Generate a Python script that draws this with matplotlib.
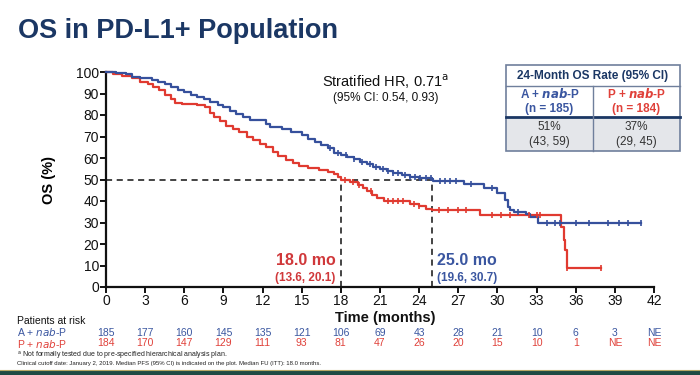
import numpy as np
import matplotlib
matplotlib.use("Agg")
import matplotlib.pyplot as plt
from matplotlib.patches import Rectangle
from matplotlib.lines import Line2D

plt.rcParams['font.family'] = ['Liberation Sans', 'DejaVu Sans']

# ---------------- data ----------------
a_times = [0, 0.8, 1.5, 2.0, 2.6, 3.5, 4.0, 4.5, 5.0, 5.5, 6.0, 6.5, 7.0, 7.5, 8.0, 8.6,
           9.0, 9.5, 10.0, 10.5, 11.0, 12.3, 12.6, 13.5, 14.2, 15.0, 15.5, 16.0, 16.5,
           17.0, 17.5, 18.0, 18.5, 19.0, 19.5, 20.0, 20.5, 21.0, 21.5, 22.0, 22.7, 23.3,
           24.0, 25.0, 25.1, 27.4, 29.0, 30.0, 30.6, 30.8, 31.0, 31.3, 32.2, 32.5, 33.1, 41.0]
a_surv = [100, 99.5, 98.9, 97.5, 97.0, 96.5, 95.5, 94.2, 93.0, 91.8, 90.8, 89.5, 88.5, 87.5,
          86.2, 84.5, 83.5, 82.0, 80.5, 79.0, 77.5, 76.0, 74.5, 73.5, 72.0, 70.5, 69.0, 67.5,
          66.0, 64.5, 62.5, 61.5, 60.5, 59.5, 58.0, 57.0, 56.0, 55.0, 54.0, 53.0, 52.0, 51.3,
          50.8, 50.3, 49.3, 48.0, 46.0, 43.6, 40.5, 37.4, 36.0, 35.0, 34.0, 32.6, 29.8, 29.8]
a_cens = [17.2, 17.8, 18.4, 19.0, 19.6, 20.2, 20.7, 21.2, 21.6, 22.0, 22.4, 22.9, 23.3, 23.7,
          24.1, 24.5, 24.9, 25.6, 26.0, 26.4, 26.8, 28.0, 29.6, 31.6, 33.8, 34.4, 34.8, 36.0,
          37.0, 38.5, 39.3, 40.0, 41.0]

p_times = [0, 0.5, 1.2, 2.0, 2.6, 3.2, 3.6, 4.1, 4.5, 5.0, 5.3, 5.8, 7.0, 7.6, 8.0, 8.3,
           8.7, 9.2, 9.7, 10.2, 10.8, 11.3, 11.8, 12.3, 12.8, 13.2, 13.8, 14.3, 14.8, 15.5,
           16.3, 17.0, 17.5, 17.8, 18.0, 18.7, 19.3, 19.7, 20.0, 20.4, 20.8, 21.3, 23.3,
           24.0, 24.5, 25.0, 28.7, 34.9, 35.1, 35.2, 35.3, 37.9]
p_surv = [100, 99.0, 98.2, 97.0, 95.5, 94.5, 93.0, 91.5, 89.5, 87.5, 85.8, 85.0, 84.5, 83.5,
          81.0, 79.0, 77.0, 75.0, 73.5, 72.0, 70.0, 68.5, 66.5, 65.0, 63.0, 61.0, 59.0, 57.5,
          56.5, 55.5, 54.5, 53.5, 52.5, 51.0, 49.8, 48.8, 47.5, 46.0, 44.5, 43.0, 41.5, 40.0,
          38.5, 37.5, 36.5, 35.8, 33.5, 28.0, 22.0, 17.0, 9.0, 9.0]
p_cens = [18.3, 18.9, 19.4, 20.3, 21.6, 22.0, 22.4, 22.8, 23.6, 24.0, 25.5, 26.2, 27.0,
          27.6, 29.6, 30.3, 31.0, 32.4, 33.0, 33.3, 35.3, 37.9]

risk_times = [0, 3, 6, 9, 12, 15, 18, 21, 24, 27, 30, 33, 36, 39, 42]
risk_a = ['185', '177', '160', '145', '135', '121', '106', '69', '43', '28', '21', '10', '6', '3', 'NE']
risk_p = ['184', '170', '147', '129', '111', '93', '81', '47', '26', '20', '15', '10', '1', 'NE', 'NE']

median_a, median_p = 25.0, 18.0

BLUE = '#36509c'
RED = '#e03a30'
NAVY = '#1b3764'
W, H = 700, 375

fig = plt.figure(figsize=(7, 3.75), dpi=100)
fig.patch.set_facecolor('white')

def fx(px):
    return px / W

def fy(py):
    return 1 - py / H

ax = fig.add_axes([fx(106), fy(287), fx(654) - fx(106), fy(72) - fy(287)])
ax.set_xlim(0, 42)
ax.set_ylim(0, 100)
for s in ['top', 'right']:
    ax.spines[s].set_visible(False)
for s in ['left', 'bottom']:
    ax.spines[s].set_linewidth(1.6)
    ax.spines[s].set_color('#111111')
ax.set_xticks(np.arange(0, 43, 3))
ax.set_yticks(np.arange(0, 101, 10))
ax.tick_params(axis='both', direction='out', length=4, width=1.4, labelsize=10,
               colors='#111111', pad=1)
ax.set_ylabel('OS (%)', fontsize=10.5, fontweight='bold', labelpad=14)
fig.text(fx(385), fy(318), 'Time (months)', fontsize=10.5, fontweight='bold',
         color='#111111', ha='center', va='center')

# median reference lines
ax.plot([0, median_a], [50, 50], ls=(0, (4, 3)), color='#111111', lw=1.1, zorder=1)
ax.plot([median_p, median_p], [0, 50], ls=(0, (4, 3)), color='#111111', lw=1.1, zorder=1)
ax.plot([median_a, median_a], [0, 50], ls=(0, (4, 3)), color='#111111', lw=1.1, zorder=1)

def step_val(times, surv, t):
    idx = np.searchsorted(times, t, side='right') - 1
    return np.array(surv)[idx]

for times, surv, cens, col in [(p_times, p_surv, p_cens, RED), (a_times, a_surv, a_cens, BLUE)]:
    ax.step(times, surv, where='post', color=col, lw=1.6, zorder=3, clip_on=False)
    ax.plot(cens, step_val(np.array(times), surv, np.array(cens)), ls='none', marker='|',
            ms=5, mew=1.2, color=col, zorder=4, clip_on=False)

# HR text
ax.text(0.51, 0.955, 'Stratified HR, 0.71$^{\\mathrm{a}}$', transform=ax.transAxes,
        ha='center', va='center', fontsize=10.5, color='#111111')
ax.text(0.51, 0.88, '(95% CI: 0.54, 0.93)', transform=ax.transAxes,
        ha='center', va='center', fontsize=8.5, color='#111111')

# median annotations
ax.text(17.6, 12.5, '18.0 mo', ha='right', va='center', fontsize=11.5, fontweight='bold', color='#d0383a')
ax.text(17.6, 4.3, '(13.6, 20.1)', ha='right', va='center', fontsize=8.5, fontweight='bold', color='#d0383a')
ax.text(25.4, 12.5, '25.0 mo', ha='left', va='center', fontsize=11.5, fontweight='bold', color='#3a56a0')
ax.text(25.4, 4.3, '(19.6, 30.7)', ha='left', va='center', fontsize=8.5, fontweight='bold', color='#3a56a0')

# title
fig.text(fx(18), fy(31), 'OS in PD-L1+ Population', fontsize=19.5, fontweight='bold',
         color=NAVY, ha='left', va='center')

# 24-month OS rate table
tl, tr, tm = 506, 680, 593
t0, t1, t2, t3 = 65, 86, 117, 151
fig.patches.append(Rectangle((fx(tl), fy(t3)), fx(tr) - fx(tl), fy(t2) - fy(t3),
                             transform=fig.transFigure, facecolor='#e4e6ea', edgecolor='none'))
fig.patches.append(Rectangle((fx(tl), fy(t3)), fx(tr) - fx(tl), fy(t0) - fy(t3),
                             transform=fig.transFigure, facecolor='none', edgecolor='#6f7f9c', lw=1.2))
fig.lines.append(Line2D([fx(tl), fx(tr)], [fy(t1), fy(t1)], transform=fig.transFigure, color='#6f7f9c', lw=1.0))
fig.lines.append(Line2D([fx(tl), fx(tr)], [fy(t2), fy(t2)], transform=fig.transFigure, color='#1b3764', lw=2.0))
fig.lines.append(Line2D([fx(tm), fx(tm)], [fy(t1), fy(t3)], transform=fig.transFigure, color='#6f7f9c', lw=1.0))
fig.text(fx((tl + tr) / 2), fy(75.5), '24-Month OS Rate (95% CI)', fontsize=8.5, fontweight='bold',
         color=NAVY, ha='center', va='center')
ca, cp = (tl + tm) / 2, (tm + tr) / 2
fig.text(fx(ca), fy(94), 'A + $\\bfit{nab}$-P', fontsize=8.5, fontweight='bold', color='#3a56a0', ha='center', va='center')
fig.text(fx(ca), fy(109), '(n = 185)', fontsize=8.5, fontweight='bold', color='#3a56a0', ha='center', va='center')
fig.text(fx(cp), fy(94), 'P + $\\bfit{nab}$-P', fontsize=8.5, fontweight='bold', color='#e0413a', ha='center', va='center')
fig.text(fx(cp), fy(109), '(n = 184)', fontsize=8.5, fontweight='bold', color='#e0413a', ha='center', va='center')
fig.text(fx(ca), fy(127), '51%', fontsize=8.5, color='#333333', ha='center', va='center')
fig.text(fx(ca), fy(142), '(43, 59)', fontsize=8.5, color='#333333', ha='center', va='center')
fig.text(fx(cp), fy(127), '37%', fontsize=8.5, color='#333333', ha='center', va='center')
fig.text(fx(cp), fy(142), '(29, 45)', fontsize=8.5, color='#333333', ha='center', va='center')

# patients at risk
fig.text(fx(17), fy(321), 'Patients at risk', fontsize=7.5, color='#111111', ha='left', va='center')
fig.text(fx(17), fy(332.5), 'A + $\\it{nab}$-P', fontsize=7.5, color='#3a56a0', ha='left', va='center')
fig.text(fx(17), fy(343.5), 'P + $\\it{nab}$-P', fontsize=7.5, color='#e0413a', ha='left', va='center')
tr_a = matplotlib.transforms.blended_transform_factory(ax.transData, fig.transFigure)
for t, ra, rp in zip(risk_times, risk_a, risk_p):
    ax.text(t, fy(332.5), ra, transform=tr_a, fontsize=7.5, color='#3a56a0', ha='center', va='center', clip_on=False)
    ax.text(t, fy(343.5), rp, transform=tr_a, fontsize=7.5, color='#e0413a', ha='center', va='center', clip_on=False)

# footnotes
fig.text(fx(17), fy(356), '$^{\\mathrm{a}}$ Not formally tested due to pre-specified hierarchical analysis plan.',
         fontsize=5.0, color='#222222', ha='left', va='center')
fig.text(fx(17), fy(363.5), 'Clinical cutoff date: January 2, 2019. Median PFS (95% CI) is indicated on the plot. Median FU (ITT): 18.0 months.',
         fontsize=4.3, color='#222222', ha='left', va='center')

# bottom bar
fig.patches.append(Rectangle((0, 0), 1, fy(370), transform=fig.transFigure, facecolor='#1f4a44', edgecolor='none'))
fig.lines.append(Line2D([0, 1], [fy(369.5), fy(369.5)], transform=fig.transFigure, color='#b8a866', lw=0.8))

fig.savefig('out.png', dpi=100, facecolor='white')
